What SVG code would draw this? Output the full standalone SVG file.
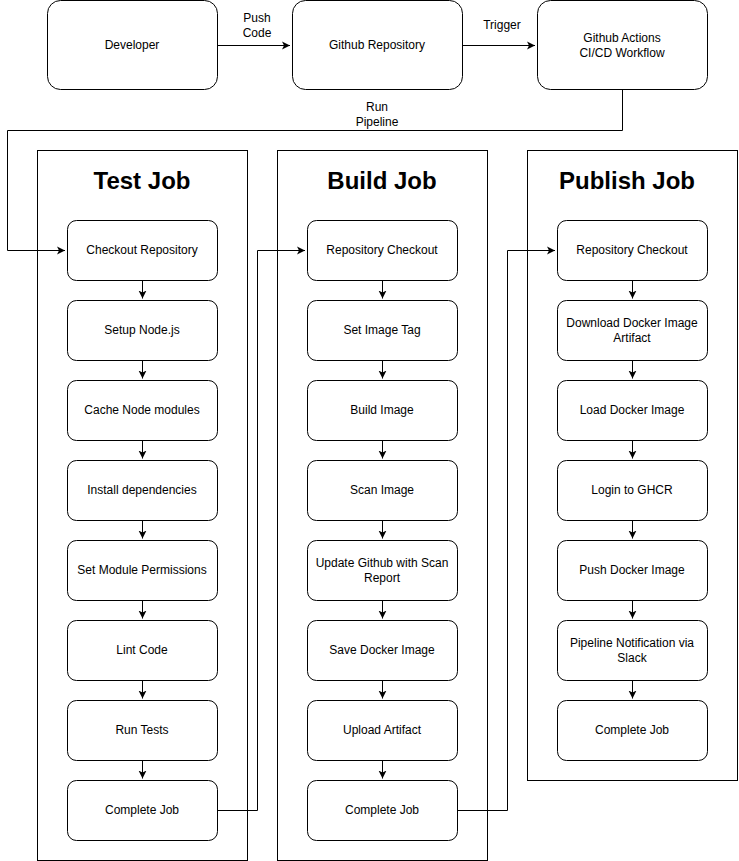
<svg xmlns="http://www.w3.org/2000/svg" width="739" height="861" viewBox="0 0 739 861">
<style>
.n{fill:#fff;stroke:#000;stroke-width:1}
.c{fill:none;stroke:#000;stroke-width:1}
.t{font-family:"Liberation Sans",Arial,sans-serif;font-size:12px;fill:#000;text-anchor:middle}
.h{font-family:"Liberation Sans",Arial,sans-serif;font-size:24px;font-weight:bold;fill:#000;text-anchor:middle}
</style>
<defs>
<marker id="a" markerWidth="10" markerHeight="10" refX="8" refY="4" orient="auto" markerUnits="userSpaceOnUse" viewBox="0 0 10 8">
<path d="M0,0 L8,4 L0,8 L2,4 Z" fill="#000"/>
</marker>
</defs>
<rect x="0" y="0" width="739" height="861" fill="#fff"/>
<g id="containers">
<g id="test-job"><rect class="n" x="37.5" y="150.5" width="210" height="710"/><text class="h" x="142" y="189">Test Job</text></g>
<g id="build-job"><rect class="n" x="277.5" y="150.5" width="210" height="710"/><text class="h" x="382" y="189">Build Job</text></g>
<g id="publish-job"><rect class="n" x="527.5" y="150.5" width="210" height="630"/><text class="h" x="627" y="189">Publish Job</text></g>
</g>
<g id="connectors">
<path class="c" d="M217.5,45.5 H290" marker-end="url(#a)"/>
<path class="c" d="M462.5,45.5 H535" marker-end="url(#a)"/>
<path class="c" d="M622.5,89.5 V130.5 H7.5 V250.5 H65" marker-end="url(#a)"/>
<path class="c" d="M217.5,810.5 H257.5 V250.5 H305" marker-end="url(#a)"/>
<path class="c" d="M457.5,810.5 H507.5 V250.5 H555" marker-end="url(#a)"/>
<g marker-end="url(#a)">
<path class="c" d="M142.5,280.5 V298.5"/><path class="c" d="M142.5,360.5 V378.5"/><path class="c" d="M142.5,440.5 V458.5"/><path class="c" d="M142.5,520.5 V538.5"/><path class="c" d="M142.5,600.5 V618.5"/><path class="c" d="M142.5,680.5 V698.5"/><path class="c" d="M142.5,760.5 V778.5"/>
<path class="c" d="M382.5,280.5 V298.5"/><path class="c" d="M382.5,360.5 V378.5"/><path class="c" d="M382.5,440.5 V458.5"/><path class="c" d="M382.5,520.5 V538.5"/><path class="c" d="M382.5,600.5 V618.5"/><path class="c" d="M382.5,680.5 V698.5"/><path class="c" d="M382.5,760.5 V778.5"/>
<path class="c" d="M632.5,280.5 V298.5"/><path class="c" d="M632.5,360.5 V378.5"/><path class="c" d="M632.5,440.5 V458.5"/><path class="c" d="M632.5,520.5 V538.5"/><path class="c" d="M632.5,600.5 V618.5"/><path class="c" d="M632.5,680.5 V698.5"/>
</g>
<text class="t" x="257" y="22">Push</text><text class="t" x="257" y="37">Code</text>
<text class="t" x="502" y="29">Trigger</text>
<text class="t" x="377" y="111">Run</text><text class="t" x="377" y="126">Pipeline</text>
</g>
<g id="developer"><rect class="n" x="47.5" y="0.5" width="170" height="89" rx="13" ry="13"/><text class="t" x="132" y="49">Developer</text></g>
<g id="github-repo"><rect class="n" x="292.5" y="0.5" width="170" height="89" rx="13" ry="13"/><text class="t" x="377" y="49">Github Repository</text></g>
<g id="github-actions"><rect class="n" x="537.5" y="0.5" width="170" height="89" rx="13" ry="13"/><text class="t" x="622" y="42">Github Actions</text><text class="t" x="622" y="57">CI/CD Workflow</text></g>

<g id="t1"><rect class="n" x="67.5" y="220.5" width="150" height="60" rx="9"/><text class="t" x="142" y="254">Checkout Repository</text></g>
<g id="t2"><rect class="n" x="67.5" y="300.5" width="150" height="60" rx="9"/><text class="t" x="142" y="334">Setup Node.js</text></g>
<g id="t3"><rect class="n" x="67.5" y="380.5" width="150" height="60" rx="9"/><text class="t" x="142" y="414">Cache Node modules</text></g>
<g id="t4"><rect class="n" x="67.5" y="460.5" width="150" height="60" rx="9"/><text class="t" x="142" y="494">Install dependencies</text></g>
<g id="t5"><rect class="n" x="67.5" y="540.5" width="150" height="60" rx="9"/><text class="t" x="142" y="574">Set Module Permissions</text></g>
<g id="t6"><rect class="n" x="67.5" y="620.5" width="150" height="60" rx="9"/><text class="t" x="142" y="654">Lint Code</text></g>
<g id="t7"><rect class="n" x="67.5" y="700.5" width="150" height="60" rx="9"/><text class="t" x="142" y="734">Run Tests</text></g>
<g id="t8"><rect class="n" x="67.5" y="780.5" width="150" height="60" rx="9"/><text class="t" x="142" y="814">Complete Job</text></g>

<g id="b1"><rect class="n" x="307.5" y="220.5" width="150" height="60" rx="9"/><text class="t" x="382" y="254">Repository Checkout</text></g>
<g id="b2"><rect class="n" x="307.5" y="300.5" width="150" height="60" rx="9"/><text class="t" x="382" y="334">Set Image Tag</text></g>
<g id="b3"><rect class="n" x="307.5" y="380.5" width="150" height="60" rx="9"/><text class="t" x="382" y="414">Build Image</text></g>
<g id="b4"><rect class="n" x="307.5" y="460.5" width="150" height="60" rx="9"/><text class="t" x="382" y="494">Scan Image</text></g>
<g id="b5"><rect class="n" x="307.5" y="540.5" width="150" height="60" rx="9"/><text class="t" x="382" y="567">Update Github with Scan</text><text class="t" x="382" y="582">Report</text></g>
<g id="b6"><rect class="n" x="307.5" y="620.5" width="150" height="60" rx="9"/><text class="t" x="382" y="654">Save Docker Image</text></g>
<g id="b7"><rect class="n" x="307.5" y="700.5" width="150" height="60" rx="9"/><text class="t" x="382" y="734">Upload Artifact</text></g>
<g id="b8"><rect class="n" x="307.5" y="780.5" width="150" height="60" rx="9"/><text class="t" x="382" y="814">Complete Job</text></g>

<g id="p1"><rect class="n" x="557.5" y="220.5" width="150" height="60" rx="9"/><text class="t" x="632" y="254">Repository Checkout</text></g>
<g id="p2"><rect class="n" x="557.5" y="300.5" width="150" height="60" rx="9"/><text class="t" x="632" y="327">Download Docker Image</text><text class="t" x="632" y="342">Artifact</text></g>
<g id="p3"><rect class="n" x="557.5" y="380.5" width="150" height="60" rx="9"/><text class="t" x="632" y="414">Load Docker Image</text></g>
<g id="p4"><rect class="n" x="557.5" y="460.5" width="150" height="60" rx="9"/><text class="t" x="632" y="494">Login to GHCR</text></g>
<g id="p5"><rect class="n" x="557.5" y="540.5" width="150" height="60" rx="9"/><text class="t" x="632" y="574">Push Docker Image</text></g>
<g id="p6"><rect class="n" x="557.5" y="620.5" width="150" height="60" rx="9"/><text class="t" x="632" y="647">Pipeline Notification via</text><text class="t" x="632" y="662">Slack</text></g>
<g id="p7"><rect class="n" x="557.5" y="700.5" width="150" height="60" rx="9"/><text class="t" x="632" y="734">Complete Job</text></g>
</svg>
